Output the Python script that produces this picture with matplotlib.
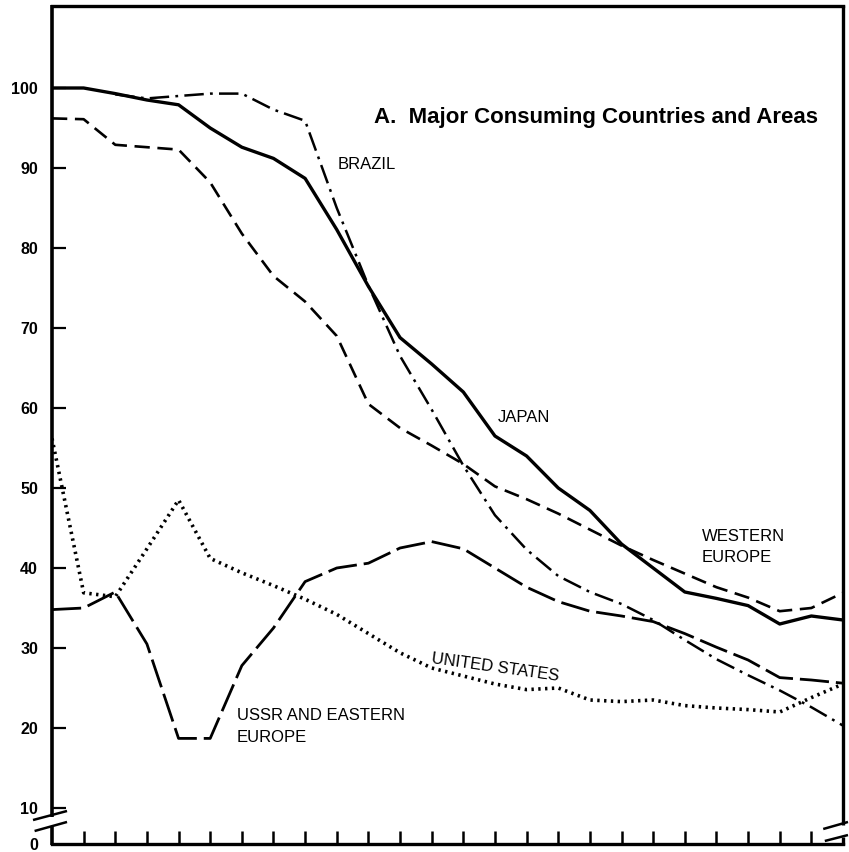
import matplotlib
matplotlib.use("Agg")
import matplotlib.pyplot as plt
import numpy as np

plt.rcParams['font.family'] = ['Liberation Sans', 'DejaVu Sans']
plt.rcParams['lines.scale_dashes'] = False

# index of each period (26 points, evenly spaced along the x axis)
periods = list(range(26))

japan = [100.0, 100.0, 99.3, 98.5, 97.9, 95.0, 92.6, 91.2, 88.7, 82.3,
         75.2, 68.8, 65.5, 62.0, 56.5, 54.0, 50.0, 47.2, 43.0, 40.0,
         37.0, 36.2, 35.3, 33.0, 34.0, 33.5]

brazil_periods = list(range(2, 26))
brazil = [99.2, 98.7, 99.0, 99.3, 99.3, 97.3, 95.9, 85.0, 75.3, 66.5,
          59.8, 52.8, 46.6, 42.3, 39.0, 37.0, 35.5, 33.5, 31.0, 28.6,
          26.6, 24.7, 22.6, 20.3]

western_europe = [96.2, 96.1, 92.9, 92.6, 92.3, 88.2, 81.8, 76.5, 73.3, 69.0,
                  60.5, 57.5, 55.3, 53.0, 50.2, 48.6, 46.8, 44.8, 42.8, 41.0,
                  39.3, 37.6, 36.3, 34.6, 35.0, 36.9]

ussr_eastern_europe = [34.8, 35.0, 37.0, 30.5, 18.7, 18.7, 27.8, 32.5, 38.3, 40.0,
                       40.6, 42.5, 43.3, 42.4, 40.0, 37.6, 35.8, 34.6, 34.0, 33.3,
                       31.8, 30.1, 28.5, 26.3, 26.0, 25.6]

united_states = [56.2, 36.9, 36.4, 42.4, 48.5, 41.2, 39.4, 37.8, 36.1, 34.2,
                 31.8, 29.4, 27.5, 26.5, 25.5, 24.8, 25.0, 23.5, 23.3, 23.5,
                 22.8, 22.5, 22.3, 22.0, 23.8, 25.5]

ytick_values = [5.5, 10, 20, 30, 40, 50, 60, 70, 80, 90, 100]
ytick_labels = ['0', '10', '20', '30', '40', '50', '60', '70', '80', '90', '100']

W, H = 849, 852
fig = plt.figure(figsize=(W / 100, H / 100), dpi=100)
ax_l, ax_r, ax_t, ax_b = 52, 843, 6, 844
ax = fig.add_axes([ax_l / W, (H - ax_b) / H, (ax_r - ax_l) / W, (ax_b - ax_t) / H])

ax.plot(periods, japan, color='black', lw=2.4, solid_joinstyle='round')
ax.plot(brazil_periods, brazil, color='black', lw=1.8, linestyle=(0, (14, 4.5, 2, 4.5)))
ax.plot(periods, western_europe, color='black', lw=1.9, linestyle=(0, (11, 5.5)))
ax.plot(periods, ussr_eastern_europe, color='black', lw=2.0, linestyle=(0, (21, 5)))
ax.plot(periods, united_states, color='black', lw=2.6, linestyle=(0, (1.7, 3.2)))

ax.set_xlim(0, 25)
ax.set_ylim(5.5, 110.25)

ax.set_xticks(periods[1:-1])
ax.set_xticklabels([])
ax.tick_params(axis='x', direction='in', length=9.5, width=1.8, color='black')
ax.set_yticks(ytick_values)
ax.set_yticklabels(ytick_labels, fontsize=11.5, fontweight='bold')
ax.tick_params(axis='y', direction='in', length=10, width=1.6, pad=10, color='black')
ax.yaxis.get_major_ticks()[0].tick1line.set_visible(False)

for s in ['left', 'right']:
    ax.spines[s].set_visible(False)
ax.spines['top'].set_linewidth(2.4)
ax.spines['bottom'].set_linewidth(2.4)

tr = ax.transAxes
kw = dict(transform=tr, color='black', clip_on=False, solid_capstyle='butt')
ax.plot([0, 0], [1.0015, 0.0322], lw=2.6, **kw)
ax.plot([0, 0], [0.0203, -0.0015], lw=2.6, **kw)
ax.plot([1, 1], [1.0015, 0.0227], lw=2.4, **kw)
ax.plot([1, 1], [0.0084, -0.0015], lw=2.4, **kw)
ax.plot([-0.024, 0.019], [0.0286, 0.0394], lw=1.8, **kw)
ax.plot([-0.022, 0.019], [0.0155, 0.0263], lw=1.8, **kw)
ax.plot([0.975, 1.0063], [0.0179, 0.0263], lw=1.8, **kw)
ax.plot([0.977, 1.0063], [0.0036, 0.0107], lw=1.8, **kw)

lab = dict(fontsize=12, color='black')
ax.text(10.17, 96.25, 'A.  Major Consuming Countries and Areas', fontsize=16,
        fontweight='bold', ha='left', va='center')
ax.text(9.04, 90.4, 'BRAZIL', ha='left', va='center', **lab)
ax.text(14.09, 58.75, 'JAPAN', ha='left', va='center', **lab)
ax.text(20.54, 43.9, 'WESTERN', ha='left', va='center', **lab)
ax.text(20.54, 41.25, 'EUROPE', ha='left', va='center', **lab)
ax.text(14.0, 27.6, 'UNITED STATES', ha='center', va='center', rotation=-8,
        rotation_mode='anchor', **lab)
ax.text(5.85, 21.6, 'USSR AND EASTERN', ha='left', va='center', **lab)
ax.text(5.85, 18.75, 'EUROPE', ha='left', va='center', **lab)

fig.savefig('out.png', dpi=100)
